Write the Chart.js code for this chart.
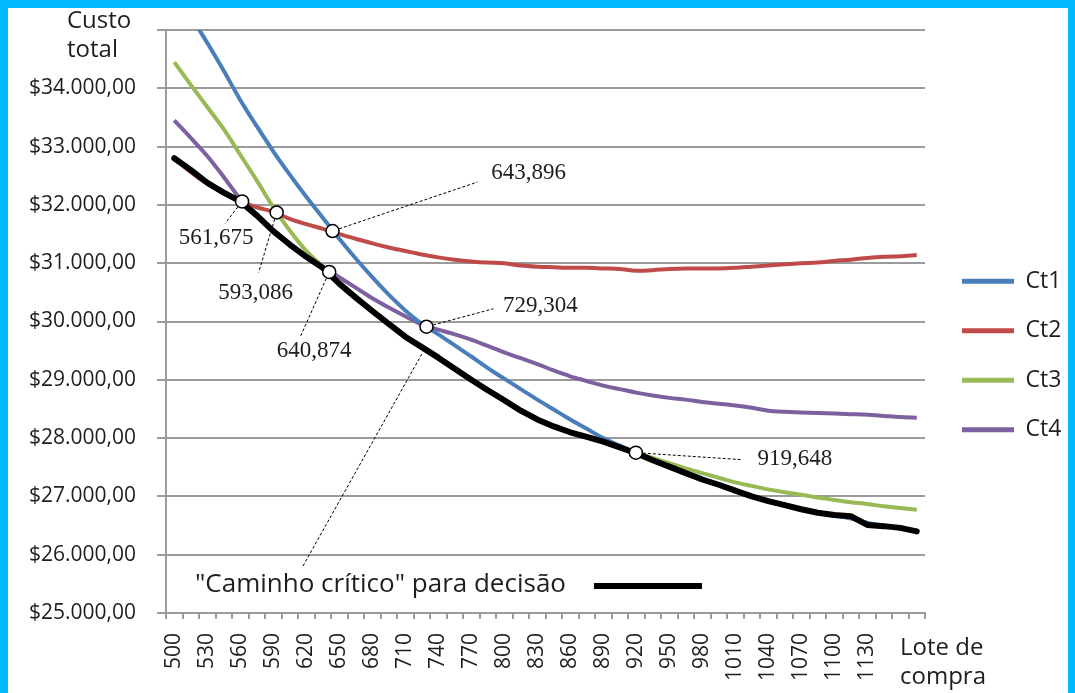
<!DOCTYPE html>
<html>
<head>
<meta charset="utf-8">
<title>Custo total x Lote de compra</title>
<script src="https://cdn.jsdelivr.net/npm/chart.js@4.4.0/dist/chart.umd.min.js"></script>
<style>
  html, body { margin: 0; padding: 0; background: #00b8ff; }
  #wrap { position: absolute; left: 8px; top: 8px; width: 1060px; height: 685px; background: #fff; }
</style>
</head>
<body>
<div id="wrap"><canvas id="custo"></canvas></div>
<script>
// lote de compra (eixo x)
const lots = [500, 515, 530, 545, 560, 575, 590, 605, 620, 635, 650, 665, 680, 695, 710, 725,
  740, 755, 770, 785, 800, 815, 830, 845, 860, 875, 890, 905, 920, 935, 950, 965, 980, 995,
  1010, 1025, 1040, 1055, 1070, 1085, 1100, 1115, 1130, 1145, 1160, 1175];
const xTickLabels = [500, 530, 560, 590, 620, 650, 680, 710, 740, 770, 800, 830, 860, 890,
  920, 950, 980, 1010, 1040, 1070, 1100, 1130];

// custo total de cada alternativa
const ct1 = [35800, 35250, 34780, 34300, 33800, 33350, 32920, 32520, 32140, 31780, 31420, 31080,
  30760, 30460, 30190, 29960, 29780, 29590, 29400, 29200, 29020, 28840, 28660, 28490, 28320, 28160,
  28000, 27870, 27740, 27630, 27520, 27410, 27305, 27200, 27100, 27000, 26920, 26850, 26780, 26720,
  26670, 26620, 26550, 26500, 26450, 26400];
const ct2 = [32800, 32560, 32360, 32200, 32070, 31960, 31880, 31760, 31670, 31590, 31500, 31420,
  31340, 31270, 31210, 31150, 31100, 31060, 31030, 31010, 31000, 30960, 30940, 30930, 30920, 30920,
  30910, 30900, 30870, 30880, 30900, 30910, 30910, 30910, 30920, 30940, 30960, 30980, 31000, 31010,
  31040, 31060, 31090, 31110, 31120, 31140];
const ct3 = [34450, 34060, 33680, 33300, 32860, 32420, 31960, 31560, 31210, 30940, 30660, 30420,
  30200, 29970, 29750, 29570, 29390, 29200, 29010, 28830, 28660, 28490, 28330, 28210, 28110, 28030,
  27950, 27840, 27750, 27660, 27570, 27480, 27400, 27320, 27240, 27180, 27120, 27070, 27030, 26980,
  26940, 26900, 26870, 26830, 26800, 26770];
const ct4 = [33450, 33150, 32840, 32480, 32100, 31800, 31560, 31330, 31120, 30940, 30760, 30580,
  30400, 30240, 30090, 29950, 29860, 29780, 29690, 29580, 29470, 29370, 29270, 29160, 29060, 28980,
  28900, 28840, 28780, 28730, 28690, 28660, 28620, 28590, 28560, 28520, 28470, 28450, 28440, 28430,
  28420, 28410, 28400, 28380, 28360, 28350];
// caminho crítico (menor custo em cada lote)
const caminho = [32800, 32600, 32380, 32210, 32060, 31820, 31550, 31320, 31110, 30920, 30650, 30410,
  30180, 29960, 29740, 29560, 29380, 29190, 29000, 28820, 28650, 28470, 28320, 28200, 28100, 28020,
  27940, 27840, 27740, 27620, 27510, 27400, 27290, 27200, 27100, 27000, 26920, 26850, 26780, 26720,
  26680, 26660, 26510, 26490, 26460, 26400];

// pontos de troca entre alternativas
const crossLots = [561.675, 593.086, 640.874, 643.896, 729.304, 919.648];
const crossCosts = [32060, 31870, 30850, 31552, 29910, 27750];

// onde fica cada rótulo (px a partir do ponto): texto e fim da linha guia
const calloutPos = [
  { tx: -26, ty: 37, lx: -17, ly: 22 },
  { tx: -21, ty: 80, lx: -18, ly: 60 },
  { tx: -15, ty: 79, lx: -29, ly: 65 },
  { tx: 196, ty: -58, lx: 145, ly: -49 },
  { tx: 114, ty: -21, lx: 67, ly: -18 },
  { tx: 159, ty: 6, lx: 106, ly: 7 }
];

const SANS = '"Open Sans"';
const TXT = '#1e1e1e';
const GRID = '#9b9b9b';
const step = lots[1] - lots[0];
const xMin = lots[0] - step / 2;
const xMax = lots[lots.length - 1] + step / 2;

// legenda: largura natural (o Chart.js soma 10px na vertical), para a área terminar em x = 917
const LEG = { box: 52, pad: 26.5, size: 23 };
const meter = document.createElement('canvas').getContext('2d');
meter.font = LEG.size + 'px ' + SANS;
const legTextW = Math.max(...['Ct1', 'Ct2', 'Ct3', 'Ct4'].map(t => meter.measureText(t).width));
const legW = LEG.pad + LEG.box + LEG.size / 2 + legTextW + 10;
const padRight = 1060 - 917 - legW;

const toPts = vals => lots.map((q, i) => ({ x: q, y: vals[i] }));
const money = v => '$' + String(v).replace(/\B(?=(\d{3})+(?!\d))/g, '.') + ',00';

function serie(label, vals, color) {
  return {
    label, data: toPts(vals), borderColor: color, backgroundColor: color,
    borderWidth: 4, pointRadius: 0, cubicInterpolationMode: 'monotone', order: 2
  };
}

const extras = {
  id: 'extras',
  afterLayout(chart) {
    chart.legend.left += 10.5;
    chart.legend.right += 10.5;
  },
  afterDraw(chart) {
    const { ctx, chartArea: area, scales: { x, y } } = chart;
    ctx.save();
    ctx.fillStyle = TXT;
    ctx.textAlign = 'left';
    ctx.textBaseline = 'alphabetic';

    // títulos dos eixos
    ctx.font = '24px ' + SANS;
    ctx.fillText('Custo', 59, 20);
    ctx.fillText('total', 59, 49);
    ctx.fillText('Lote de', area.right - 25, area.bottom + 42);
    ctx.fillText('compra', area.right - 25, area.bottom + 71);

    // linhas guia e valores dos pontos de troca
    ctx.strokeStyle = '#000';
    ctx.lineWidth = 1;
    ctx.setLineDash([3, 2]);
    ctx.font = '23px "Liberation Serif"';
    ctx.textAlign = 'center';
    ctx.textBaseline = 'middle';
    crossLots.forEach((q, i) => {
      const px = x.getPixelForValue(q);
      const py = y.getPixelForValue(crossCosts[i]);
      const c = calloutPos[i];
      const len = Math.hypot(c.lx, c.ly);
      ctx.beginPath();
      ctx.moveTo(px + c.lx / len * 7, py + c.ly / len * 7);
      ctx.lineTo(px + c.lx, py + c.ly);
      ctx.stroke();
      ctx.fillText(q.toFixed(3).replace('.', ','), px + c.tx, py + c.ty);
    });

    // rótulo do caminho crítico
    const crit = chart.data.datasets[4];
    const lx = area.left + 29;
    const ly = area.bottom - 21;
    ctx.font = '26px ' + SANS;
    ctx.textAlign = 'left';
    ctx.textBaseline = 'alphabetic';
    ctx.fillText(crit.label, lx, ly);
    const w = ctx.measureText(crit.label).width;
    const tip = crit.data[15];
    ctx.beginPath();
    ctx.moveTo(lx + 108, ly - 26);
    ctx.lineTo(x.getPixelForValue(tip.x), y.getPixelForValue(tip.y) + 7);
    ctx.stroke();
    ctx.setLineDash([]);
    ctx.lineWidth = 6;
    ctx.strokeStyle = crit.borderColor;
    ctx.beginPath();
    ctx.moveTo(lx + w + 28, ly - 6);
    ctx.lineTo(lx + w + 136, ly - 6);
    ctx.stroke();
    ctx.restore();
  }
};

new Chart(document.getElementById('custo'), {
  type: 'line',
  data: {
    datasets: [
      serie('Ct1', ct1, '#4a7ebb'),
      serie('Ct2', ct2, '#be4b48'),
      serie('Ct3', ct3, '#98b954'),
      serie('Ct4', ct4, '#7d60a0'),
      {
        label: '"Caminho crítico" para decisão', data: toPts(caminho),
        borderColor: '#000', backgroundColor: '#000', borderWidth: 6, pointRadius: 0,
        borderJoinStyle: 'round', borderCapStyle: 'round', order: 1
      },
      {
        label: 'Troca', data: crossLots.map((q, i) => ({ x: q, y: crossCosts[i] })),
        showLine: false, pointRadius: 6.5, pointBackgroundColor: '#fff',
        pointBorderColor: '#000', pointBorderWidth: 1.5, order: 0
      }
    ]
  },
  options: {
    responsive: true,
    maintainAspectRatio: false,
    animation: false,
    layout: { padding: { left: 7, top: 22, right: padRight, bottom: 12 } },
    plugins: {
      legend: {
        position: 'right',
        labels: {
          filter: item => item.text.startsWith('Ct'),
          generateLabels: chart => Chart.defaults.plugins.legend.labels.generateLabels(chart)
            .map(l => ({ ...l, lineWidth: 0 })),
          boxWidth: LEG.box, boxHeight: 5, padding: LEG.pad, color: TXT,
          font: { family: SANS, size: LEG.size }
        }
      },
      tooltip: { enabled: false }
    },
    scales: {
      x: {
        type: 'linear', min: xMin, max: xMax,
        afterBuildTicks: s => {
          s.ticks = lots.map(q => ({ value: q - step / 2 })).concat({ value: xMax });
        },
        afterFit: s => { s.height = 6; s.paddingLeft = 0; s.paddingRight = 0; },
        ticks: { display: false },
        grid: { drawOnChartArea: false, tickLength: 6, color: GRID, lineWidth: 2 },
        border: { color: GRID, width: 2 }
      },
      xl: {
        type: 'linear', position: 'bottom', weight: 1, min: xMin, max: xMax,
        afterBuildTicks: s => { s.ticks = xTickLabels.map(v => ({ value: v })); },
        afterFit: s => { s.height = 62; s.paddingLeft = 0; s.paddingRight = 0; },
        grid: { display: false, drawTicks: false },
        border: { display: false },
        ticks: {
          autoSkip: false, minRotation: 90, maxRotation: 90, padding: 14,
          color: TXT, font: { family: SANS, size: 21 }, callback: v => String(v)
        }
      },
      y: {
        min: 25000, max: 35000,
        afterFit: s => { s.width = 151; s.paddingTop = 0; s.paddingBottom = 0; },
        ticks: {
          stepSize: 1000, padding: 21, color: TXT, font: { family: SANS, size: 21 },
          callback: v => (v === 35000 ? '' : money(v))
        },
        grid: { tickLength: 9, color: GRID, lineWidth: 2 },
        border: { color: GRID, width: 2 }
      }
    }
  },
  plugins: [extras]
});
</script>
</body>
</html>
